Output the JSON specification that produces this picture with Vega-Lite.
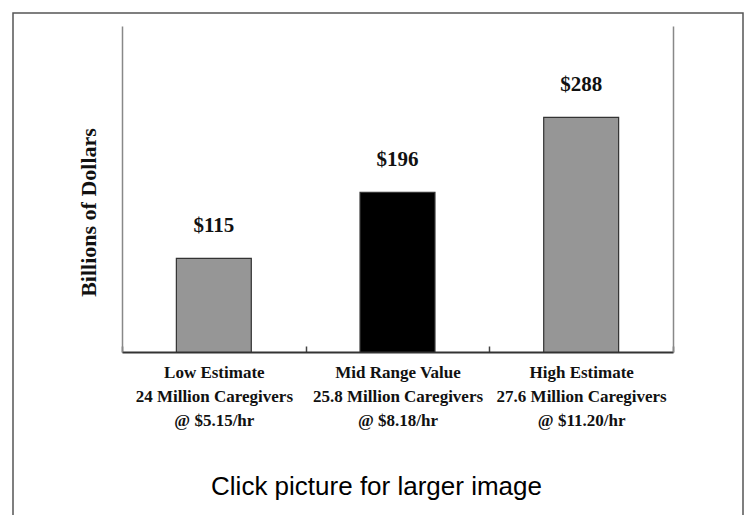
{
  "$schema": "https://vega.github.io/schema/vega-lite/v6.json",
  "width": 730,
  "height": 506,
  "autosize": "none",
  "padding": {"left": 13, "top": 13, "right": 4, "bottom": -4},
  "background": "white",
  "config": {"view": {"stroke": "#555555", "strokeWidth": 1.5}},
  "data": {
    "values": [
      {"category": "Low Estimate|24 Million Caregivers|@ $5.15/hr", "value": 115, "label": "$115", "group": "low"},
      {"category": "Mid Range Value|25.8 Million Caregivers|@ $8.18/hr", "value": 196, "label": "$196", "group": "mid"},
      {"category": "High Estimate|27.6 Million Caregivers|@ $11.20/hr", "value": 288, "label": "$288", "group": "high"}
    ]
  },
  "encoding": {
    "x": {
      "field": "category",
      "type": "nominal",
      "sort": null,
      "scale": {"range": [109, 660], "paddingInner": 0, "paddingOuter": 0},
      "axis": {
        "title": "Click picture for larger image",
        "titleFont": "Liberation Sans",
        "titleFontWeight": "normal",
        "titleFontSize": 26,
        "titleColor": "#000000",
        "titleX": 363,
        "titleY": 134,
        "titleBaseline": "middle",
        "titleAlign": "center",
        "labelAngle": 0,
        "labelExpr": "split(datum.label, '|')",
        "labelFont": "Liberation Serif",
        "labelFontWeight": "bold",
        "labelFontSize": 17,
        "labelColor": "#111111",
        "labelLineHeight": 24,
        "labelPadding": 18,
        "labelBaseline": "top",
        "labelLimit": 250,
        "ticks": true,
        "tickBand": "extent",
        "tickSize": -6,
        "tickColor": "#444444",
        "tickWidth": 1.5,
        "tickOpacity": 1,
        "domainColor": "#333333",
        "domainWidth": 2,
        "grid": false,
        "offset": -167
      }
    },
    "y": {
      "field": "value",
      "type": "quantitative",
      "scale": {"domain": [0, 400], "range": [339, 13], "nice": false},
      "axis": {
        "title": "Billions of Dollars",
        "titleFont": "Liberation Serif",
        "titleFontWeight": "bold",
        "titleFontSize": 22,
        "titleColor": "#111111",
        "titleX": -34,
        "titleY": 199,
        "titleBaseline": "middle",
        "titleAlign": "center",
        "labels": false,
        "ticks": false,
        "grid": false,
        "domainColor": "#888888",
        "domainWidth": 1.5,
        "offset": -109
      }
    }
  },
  "layer": [
    {
      "mark": {"type": "bar", "width": {"band": 0.408}, "stroke": "#333333", "strokeWidth": 1.2},
      "encoding": {
        "color": {
          "field": "group",
          "type": "nominal",
          "scale": {"domain": ["low", "mid", "high"], "range": ["#969696", "#000000", "#969696"]},
          "legend": null
        }
      }
    },
    {
      "mark": {"type": "text", "font": "Liberation Serif", "fontWeight": "bold", "fontSize": 21, "baseline": "alphabetic", "dy": -26, "color": "#111111"},
      "encoding": {
        "text": {"field": "label"},
        "y": {
          "field": "value",
          "type": "quantitative",
          "axis": {
            "orient": "right",
            "title": null,
            "labels": false,
            "ticks": false,
            "grid": false,
            "domainColor": "#888888",
            "domainWidth": 1.5,
            "offset": -70
          }
        }
      }
    }
  ],
  "resolve": {"axis": {"y": "independent"}}
}
